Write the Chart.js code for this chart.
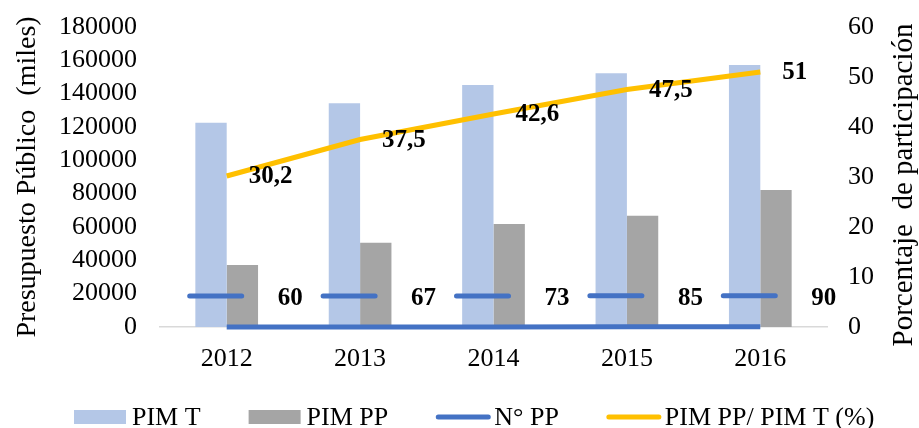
<!DOCTYPE html>
<html><head><meta charset="utf-8">
<script src="https://cdn.jsdelivr.net/npm/chart.js@4.4.1/dist/chart.umd.min.js"></script>
<style>html,body{margin:0;padding:0;background:#fff;}#wrap{width:919px;height:428px;}</style>
</head><body><div id="wrap"><canvas id="c" width="919" height="428"></canvas></div>
<script>
const categories = ['2012','2013','2014','2015','2016'];
const pimT = [122500, 134200, 145200, 152200, 157200];
const pimPP = [37200, 50600, 61800, 66800, 82200];
const numPP = [60, 67, 73, 85, 90];
const pctPP = [30.2, 37.5, 42.6, 47.5, 51];
const leftTicks = [0,20000,40000,60000,80000,100000,120000,140000,160000,180000];
const rightTicks = [0,10,20,30,40,50,60];

const FONT = '"Liberation Serif", "Times New Roman", serif';
const BLUE = '#4472C4', YEL = '#FFC000', LBLUE = '#B4C7E7', GRAY = '#A5A5A5';

const labelPlugin = {
  id: 'labels',
  afterDatasetsDraw(chart) {
    const ctx = chart.ctx;
    ctx.save();
    ctx.font = 'bold 25px ' + FONT;
    ctx.fillStyle = '#000';
    ctx.textBaseline = 'middle';
    ctx.textAlign = 'left';
    const m0 = chart.getDatasetMeta(0);
    m0.data.forEach((p, i) => {
      const y = p.y - 31;
      ctx.strokeStyle = BLUE; ctx.lineWidth = 5; ctx.lineCap = 'round';
      ctx.beginPath(); ctx.moveTo(p.x - 37, y); ctx.lineTo(p.x + 15, y); ctx.stroke();
      ctx.fillText(String(numPP[i]), p.x + 51, y + 3);
    });
    const m1 = chart.getDatasetMeta(1);
    m1.data.forEach((p, i) => {
      ctx.fillText(String(pctPP[i]).replace('.', ','), p.x + 22, p.y + 1);
    });
    ctx.restore();
  },
  afterDraw(chart) {
    const ctx = chart.ctx;
    ctx.save();
    ctx.font = '29px ' + FONT;
    ctx.fillStyle = '#000';
    ctx.textAlign = 'center';
    ctx.textBaseline = 'middle';
    ctx.translate(chart.width - 15, (chart.chartArea.top + chart.chartArea.bottom) / 2 + 8);
    ctx.rotate(-Math.PI / 2);
    ctx.fillText('Porcentaje  de participación', 0, 0);
    ctx.restore();

    ctx.save();
    ctx.font = '26px ' + FONT;
    ctx.textBaseline = 'middle';
    ctx.textAlign = 'left';
    const items = [
      {t: 'PIM T', type: 'box', c: LBLUE},
      {t: 'PIM PP', type: 'box', c: GRAY},
      {t: 'N° PP', type: 'line', c: BLUE},
      {t: 'PIM PP/ PIM T (%)', type: 'line', c: YEL}
    ];
    let x = 74; const y = 417;
    items.forEach(it => {
      if (it.type === 'box') {
        ctx.fillStyle = it.c; ctx.fillRect(x, y - 7, 52, 14);
      } else {
        ctx.strokeStyle = it.c; ctx.lineWidth = 5; ctx.lineCap = 'round';
        ctx.beginPath(); ctx.moveTo(x + 2, y); ctx.lineTo(x + 52, y); ctx.stroke();
      }
      ctx.fillStyle = '#000';
      ctx.fillText(it.t, x + 58, y + 1);
      x += 58 + ctx.measureText(it.t).width + 48;
    });
    ctx.restore();
  }
};

new Chart(document.getElementById('c'), {
  data: {
    labels: categories,
    datasets: [
      {type: 'line', label: 'N° PP', data: numPP, yAxisID: 'y', borderColor: BLUE, backgroundColor: BLUE, borderWidth: 5, pointRadius: 0, tension: 0, order: 0, clip: false},
      {type: 'line', label: 'PIM PP/ PIM T (%)', data: pctPP, yAxisID: 'y1', borderColor: YEL, backgroundColor: YEL, borderWidth: 5, pointRadius: 0, tension: 0, order: 1, clip: false},
      {type: 'bar', label: 'PIM T', data: pimT, yAxisID: 'y', backgroundColor: LBLUE, categoryPercentage: 0.47, barPercentage: 1, order: 2},
      {type: 'bar', label: 'PIM PP', data: pimPP, yAxisID: 'y', backgroundColor: GRAY, categoryPercentage: 0.47, barPercentage: 1, order: 2}
    ]
  },
  options: {
    responsive: false,
    animation: false,
    layout: {padding: {top: 27, bottom: 61, left: 0, right: 0}},
    plugins: {legend: {display: false}, tooltip: {enabled: false}},
    scales: {
      x: {
        grid: {display: false, drawTicks: false},
        border: {display: true, color: '#D9D9D9', width: 1.5},
        ticks: {font: {family: FONT, size: 26}, color: '#000', padding: 17},
        afterFit(s) { s.height = 40; s.paddingLeft = 0; s.paddingRight = 0; }
      },
      y: {
        position: 'left', min: 0, max: 180000,
        afterBuildTicks(s) { s.ticks = leftTicks.map(v => ({value: v})); },
        grid: {display: false, drawTicks: false},
        border: {display: false},
        ticks: {font: {family: FONT, size: 26}, color: '#000', padding: 23, autoSkip: false, callback: v => String(v)},
        title: {display: true, text: 'Presupuesto Público  (miles)', font: {family: FONT, size: 28}, color: '#000', padding: {top: 11, bottom: 0}},
        afterFit(s) { s.width = 160; s.paddingTop = 0; s.paddingBottom = 0; }
      },
      y1: {
        position: 'right', min: 0, max: 60,
        afterBuildTicks(s) { s.ticks = rightTicks.map(v => ({value: v})); },
        grid: {display: false, drawTicks: false},
        border: {display: false},
        ticks: {font: {family: FONT, size: 26}, color: '#000', padding: 21, autoSkip: false, callback: v => String(v)},
        afterFit(s) { s.width = 92; s.paddingTop = 0; s.paddingBottom = 0; }
      }
    }
  },
  plugins: [labelPlugin]
});
</script></body></html>
